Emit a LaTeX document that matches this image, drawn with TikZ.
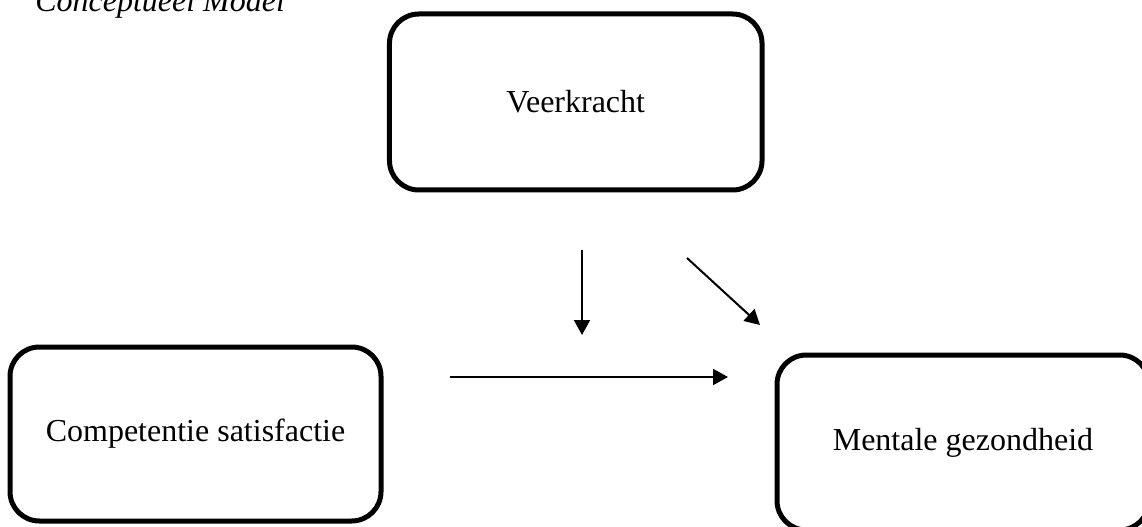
\documentclass[tikz,border=0pt]{standalone}
\usepackage{fontspec}
\setmainfont{Liberation Serif}
\usetikzlibrary{arrows.meta}
\begin{document}
\begin{tikzpicture}[x=0.75pt,y=-0.75pt,
  box/.style={draw=black,line width=3.75pt,rounded corners=22pt,fill=white,
    font=\fontsize{24}{28}\selectfont,inner sep=0pt},
  conn/.style={draw=black,line width=1.5pt,-{Triangle[length=11.25pt,width=12pt]}}]
\useasboundingbox[fill=white] (0,0) rectangle (1142,527);
\node[anchor=base west,font=\fontsize{24}{28}\selectfont\itshape,inner sep=0pt] (title) at (35,12) {Conceptueel Model};
\node[box,minimum width=279.4pt,minimum height=132pt] (veer) at (575.75,102) {Veerkracht};
\node[box,minimum width=278.25pt,minimum height=130.5pt] (comp) at (195.5,434) {Competentie satisfactie};
\node[box,minimum width=279pt,minimum height=131.25pt] (ment) at (963,442.5) {Mentale gezondheid};
\coordinate (v1) at (582,250);
\coordinate (v2) at (582,335);
\coordinate (d1) at (687,258);
\coordinate (d2) at (760,325);
\coordinate (h1) at (450,377);
\coordinate (h2) at (728,377);
\draw[conn] (v1) -- (v2);
\draw[conn] (d1) -- (d2);
\draw[conn] (h1) -- (h2);
\end{tikzpicture}
\end{document}
